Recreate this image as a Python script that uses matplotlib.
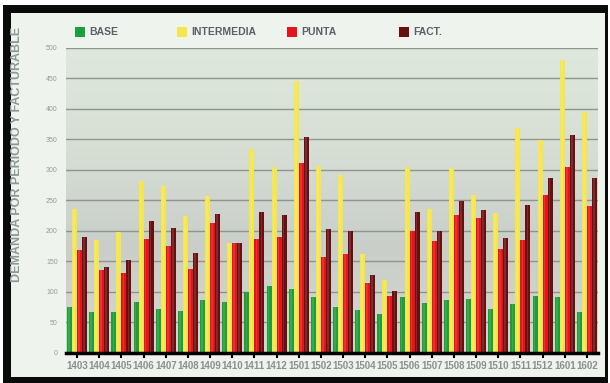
import numpy as np
import matplotlib
matplotlib.use("Agg")
import matplotlib.pyplot as plt
from matplotlib.patches import Rectangle
from matplotlib.colors import LinearSegmentedColormap

periods = ["1403", "1404", "1405", "1406", "1407", "1408", "1409", "1410", "1411", "1412",
           "1501", "1502", "1503", "1504", "1505", "1506", "1507", "1508", "1509", "1510",
           "1511", "1512", "1601", "1602"]
base = [75, 67, 67, 83, 71, 68, 87, 83, 100, 109, 105, 91, 75, 70, 64, 91, 82, 86, 88, 72, 80, 93, 91, 67]
intermedia = [235, 185, 197, 282, 273, 224, 257, 179, 334, 304, 445, 306, 291, 161, 119, 304, 235, 303, 259, 229, 368, 348, 480, 394]
punta = [169, 136, 130, 186, 175, 137, 213, 179, 186, 190, 311, 157, 162, 114, 93, 199, 183, 226, 221, 170, 185, 259, 304, 240]
fact = [189, 140, 152, 215, 205, 163, 227, 179, 231, 225, 353, 202, 200, 128, 101, 231, 199, 249, 233, 188, 242, 287, 357, 287]

series = [("BASE", base, "#1e9e3a"), ("INTERMEDIA", intermedia, "#f4e64c"),
          ("PUNTA", punta, "#e5141b"), ("FACT.", fact, "#6a0f10")]
yticks = list(range(0, 501, 50))

W, H = 610, 383
fig = plt.figure(figsize=(W / 100, H / 100), dpi=100)
fig.patch.set_facecolor("white")

def px(x0, y0, x1, y1, color, z):
    fig.patches.append(Rectangle((x0 / W, 1 - y1 / H), (x1 - x0) / W, (y1 - y0) / H,
                                 transform=fig.transFigure, facecolor=color, edgecolor="none", zorder=z))

px(3, 5, 608, 383, "#0a0a0a", 0)
px(11, 13, 605, 377, "#eef3ee", 1)

ax = fig.add_axes([66 / W, 1 - 352.7 / H, (598 - 66) / W, (352.7 - 47.5) / H])
ax.set_zorder(2)

# background gradient
cmap = LinearSegmentedColormap.from_list("bg", [(0, "#d3d8d3"), (0.35, "#c9cec9"), (0.7, "#d8e0d6"), (1, "#dfe8dc")])
grad = np.linspace(0, 1, 256).reshape(-1, 1)
ax.imshow(grad, aspect="auto", cmap=cmap, origin="lower", extent=[-0.5, 23.5, 0, 500], zorder=0)

x = np.arange(len(periods))
w = 0.225
for i, (name, vals, col) in enumerate(series):
    off = (i - 1.5) * w
    ax.bar(x + off, vals, width=w, color=col, edgecolor="none", zorder=3)
    ax.bar(x + off - w * 0.1, vals, width=w * 0.35, color="white", alpha=0.12, edgecolor="none", zorder=3.1)

ax.set_xlim(-0.5, 23.5)
ax.set_ylim(0, 500)
ax.set_yticks(yticks)
ax.set_yticklabels([str(t) for t in yticks], fontsize=5, color="#9a9a9a", family="Liberation Sans")
for t in yticks[1:]:
    ax.axhline(t, color="#8f948f", lw=1.0, zorder=1)
ax.set_xticks(x)
ax.set_xticklabels(periods, fontsize=7, color="#8a8f8f", family="Liberation Sans", fontweight="bold")
ax.tick_params(axis="x", length=3.5, width=1.5, color="black", pad=2.5, direction="out")
ax.tick_params(axis="y", length=0, pad=6)
for s in ["top", "right", "left"]:
    ax.spines[s].set_visible(False)
ax.spines["bottom"].set_linewidth(2.5)
ax.spines["bottom"].set_color("black")
ax.spines["bottom"].set_zorder(5)

fig.text(17.5 / W, 1 - 154 / H, "DEMANDA POR PERIODO Y FACTURABLE", rotation=90, ha="center", va="center",
         fontsize=9, color="#8c9896", family="Liberation Sans", fontweight="bold")

leg_x = [75, 177, 287, 399]
for (name, vals, col), lx in zip(series, leg_x):
    px(lx, 27, lx + 10, 36.5, col, 3)
    fig.text((lx + 14) / W, 1 - 32 / H, name, ha="left", va="center", fontsize=7.5,
             color="#5a5f66", family="Liberation Sans", fontweight="bold")

fig.savefig("out.png", dpi=100, facecolor=fig.get_facecolor())
